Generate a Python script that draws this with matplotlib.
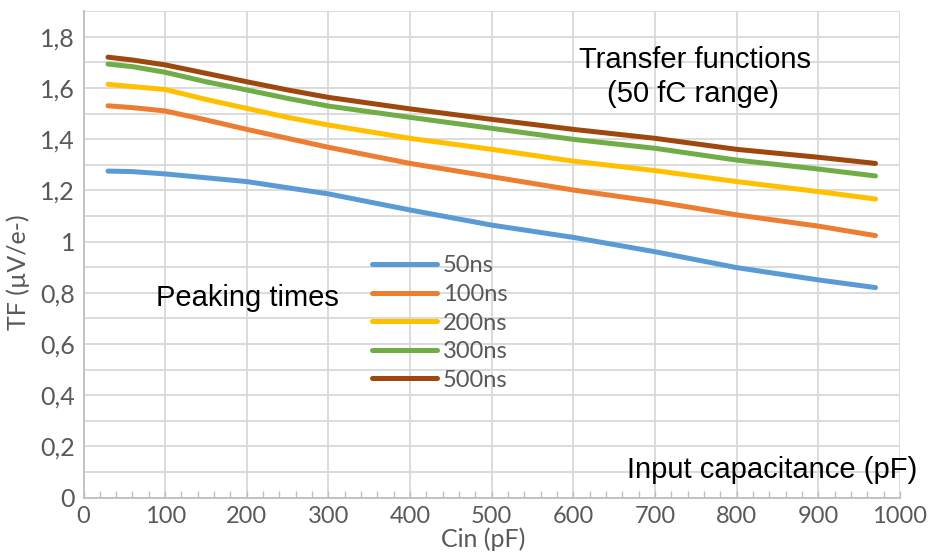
import matplotlib
matplotlib.use("Agg")
import matplotlib.pyplot as plt
from matplotlib.ticker import MultipleLocator, FuncFormatter

cin = [30, 60, 100, 150, 200, 250, 300, 400, 500, 600, 700, 800, 900, 970]
tf_50ns = [1.275, 1.273, 1.264, 1.249, 1.234, 1.210, 1.186, 1.123, 1.064, 1.016, 0.960, 0.898, 0.850, 0.820]
tf_100ns = [1.530, 1.523, 1.510, 1.475, 1.438, 1.403, 1.368, 1.305, 1.253, 1.201, 1.156, 1.104, 1.060, 1.023]
tf_200ns = [1.614, 1.605, 1.594, 1.555, 1.520, 1.485, 1.455, 1.403, 1.360, 1.314, 1.277, 1.234, 1.195, 1.166]
tf_300ns = [1.693, 1.683, 1.661, 1.624, 1.592, 1.559, 1.529, 1.485, 1.442, 1.399, 1.364, 1.318, 1.283, 1.256]
tf_500ns = [1.720, 1.709, 1.690, 1.657, 1.624, 1.592, 1.563, 1.518, 1.477, 1.438, 1.403, 1.360, 1.329, 1.305]
series_labels = ["50ns", "100ns", "200ns", "300ns", "500ns"]
colors = ["#5B9BD5", "#ED7D31", "#FFC000", "#70AD47", "#9E480E"]

W, H = 931, 552
fig = plt.figure(figsize=(W / 100, H / 100), dpi=100)
left, right, top, bottom = 83.5, 900, 11.1, 497.5
ax = fig.add_axes([left / W, 1 - bottom / H, (right - left) / W, (bottom - top) / H])

for ys, lab, c in zip([tf_50ns, tf_100ns, tf_200ns, tf_300ns, tf_500ns], series_labels, colors):
    ax.plot(cin, ys, color=c, lw=3.6, label=lab, solid_capstyle="round", solid_joinstyle="round", zorder=3)

ax.set_xlim(0, 1000)
ax.set_ylim(0, 1.9)
ax.xaxis.set_major_locator(MultipleLocator(100))
ax.xaxis.set_minor_locator(MultipleLocator(20))
ax.yaxis.set_major_locator(MultipleLocator(0.2))
ax.yaxis.set_minor_locator(MultipleLocator(0.1))

def yfmt(v, pos):
    s = ("%.1f" % v).rstrip("0").rstrip(".")
    return s.replace(".", ",")
ax.yaxis.set_major_formatter(FuncFormatter(yfmt))

grid_c = "#D9D9D9"
ax.grid(True, which="major", axis="x", color=grid_c, lw=1.3, zorder=0)
ax.grid(True, which="both", axis="y", color=grid_c, lw=1.3, zorder=0)
for s in ["top", "right"]:
    ax.spines[s].set_visible(False)
for s in ["left", "bottom"]:
    ax.spines[s].set_color("#BFBFBF")
    ax.spines[s].set_linewidth(1.3)
ax.set_axisbelow(True)

tick_c = "#595959"
ax.tick_params(axis="x", which="major", direction="in", length=5, width=1, color="#BFBFBF",
               labelsize=17, labelcolor=tick_c, pad=6)
ax.tick_params(axis="x", which="minor", direction="in", length=5, width=1, color="#BFBFBF")
ax.tick_params(axis="y", which="both", length=0, labelsize=18, labelcolor=tick_c, pad=6)
for lab in ax.get_xticklabels() + ax.get_yticklabels():
    lab.set_fontfamily("Lato")

fig.text(483 / W, 1 - 539 / H, "Cin (pF)", fontsize=18, color=tick_c, family="Lato",
         ha="center", va="center")
fig.text(18 / W, 1 - 272 / H, "TF (µV/e-)", fontsize=18, color=tick_c, family="Lato",
         ha="center", va="center", rotation=90)

ann = dict(fontsize=21, color="black", family="Liberation Sans", ha="center", va="center")
fig.text(695 / W, 1 - 60 / H, "Transfer functions", **ann)
fig.text(693 / W, 1 - 94 / H, "(50 fC range)", **ann)
fig.text(247 / W, 1 - 298 / H, "Peaking times", **ann)
fig.text(772 / W, 1 - 470 / H, "Input capacitance (pF)", **ann)

leg = ax.legend(loc="center left", bbox_to_anchor=(372 / W, 1 - 323 / H), bbox_transform=fig.transFigure,
                frameon=False, handlelength=2.75, handletextpad=0.25, labelspacing=0.32,
                borderpad=0, borderaxespad=0, prop={"family": "Lato", "size": 17})
for t in leg.get_texts():
    t.set_color(tick_c)

fig.savefig("out.png", dpi=100)
